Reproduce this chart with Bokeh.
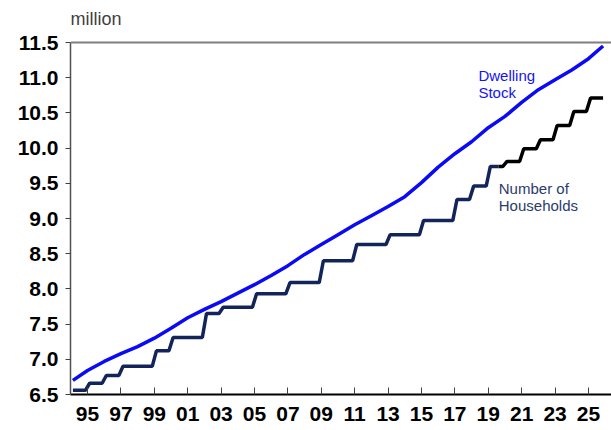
from bokeh.plotting import figure
from bokeh.models import Range1d, FixedTicker, Label, Span
from bokeh.embed import file_html
from bokeh.resources import INLINE

# Number of households (million), level held through each year
hh_years = list(range(1994, 2026))
households = [6.56, 6.66, 6.77, 6.90, 6.90, 7.12, 7.31, 7.31, 7.65, 7.74,
              7.74, 7.93, 7.93, 8.09, 8.09, 8.40, 8.40, 8.63, 8.63, 8.77,
              8.77, 8.97, 8.97, 9.27, 9.46, 9.74, 9.81, 9.99, 10.12, 10.32,
              10.52, 10.71]
projection_start = 2019.625

# Dwelling stock (million)
stock_x = [1994.125, 1995, 1996, 1997, 1998, 1999, 2000, 2001, 2002, 2003,
           2004, 2005, 2006, 2007, 2008, 2009, 2010, 2011, 2012, 2013,
           2014, 2015, 2016, 2017, 2018, 2019, 2020, 2021, 2022, 2023,
           2024, 2025, 2025.875]
stock = [6.70, 6.84, 6.97, 7.08, 7.18, 7.30, 7.44, 7.59, 7.71, 7.82,
         7.94, 8.06, 8.19, 8.33, 8.49, 8.63, 8.77, 8.91, 9.04, 9.17,
         9.31, 9.51, 9.73, 9.92, 10.09, 10.29, 10.45, 10.65, 10.83, 10.97,
         11.11, 11.27, 11.45]

x_ticks = list(range(1995, 2026, 2))
x_tick_labels = ["95", "97", "99", "01", "03", "05", "07", "09", "11", "13",
                 "15", "17", "19", "21", "23", "25"]
y_ticks = [6.5, 7.0, 7.5, 8.0, 8.5, 9.0, 9.5, 10.0, 10.5, 11.0, 11.5]
y_tick_labels = ["6.5", "7.0", "7.5", "8.0", "8.5", "9.0", "9.5", "10.0",
                 "10.5", "11.0", "11.5"]

# quarterly series: each year's level over its four quarters
q_x, q_y = [], []
for yr, v in zip(hh_years, households):
    for q in range(4):
        q_x.append(yr + (q + 0.5) / 4)
        q_y.append(v)
act_x = [x for x in q_x if x <= projection_start]
act_y = [v for x, v in zip(q_x, q_y) if x <= projection_start]
proj_x = [x for x in q_x if x >= projection_start]
proj_y = [v for x, v in zip(q_x, q_y) if x >= projection_start]

FONT = "Liberation Sans"
X0, X1 = 1993.98, 2026.38
Y0, Y1 = 6.5, 11.5
# the frame runs to the top of the canvas; the axis itself stops at Y1
Y_TOP = Y0 + 394 / 70.4

p = figure(width=611, height=430, output_backend="svg", toolbar_location=None,
           title=None, x_range=Range1d(X0, X1), y_range=Range1d(Y0, Y_TOP),
           min_border_left=70, min_border_right=0, min_border_top=0,
           min_border_bottom=36)
p.outline_line_color = None
p.xgrid.visible = False
p.ygrid.visible = False
p.background_fill_color = "white"
p.border_fill_color = "white"

p.line(stock_x, stock, line_color="#0a0af5", line_width=3.5)
p.line(act_x, act_y, line_color="#13245a", line_width=3.5)
p.line(proj_x, proj_y, line_color="#000000", line_width=3.5)

# top border of the plotting area
p.add_layout(Span(location=Y1, dimension="width", line_color="#7f7f7f",
                  line_width=2))

xa = p.xaxis[0]
xa.ticker = FixedTicker(ticks=x_ticks)
xa.major_label_overrides = dict(zip(x_ticks, x_tick_labels))
xa.axis_line_color = "#000000"
xa.axis_line_width = 2
xa.major_tick_in = 7
xa.major_tick_out = 0
xa.major_tick_line_color = "#404040"
xa.minor_tick_line_color = None
xa.major_label_standoff = 12
xa.major_label_text_font = FONT
xa.major_label_text_font_style = "bold"
xa.major_label_text_font_size = "21px"
xa.major_label_text_color = "#000000"

ya = p.yaxis[0]
ya.bounds = (Y0, Y1)
ya.ticker = FixedTicker(ticks=y_ticks)
ya.major_label_overrides = dict(zip(y_ticks, y_tick_labels))
ya.axis_line_color = "#505050"
ya.axis_line_width = 1.5
ya.major_tick_in = 0
ya.major_tick_out = 5
ya.major_tick_line_color = "#404040"
ya.minor_tick_line_color = None
ya.major_label_standoff = 7
ya.major_label_text_font = FONT
ya.major_label_text_font_style = "bold"
ya.major_label_text_font_size = "21px"
ya.major_label_text_color = "#000000"

# unit caption above the value axis
p.add_layout(Label(x=X0, y=11.83, text="million", text_font=FONT,
                   text_font_size="18px", text_color="#404040",
                   text_baseline="alphabetic", text_align="left"))

label_style = dict(text_font=FONT, text_font_size="15px",
                   text_baseline="alphabetic", text_align="left")
p.add_layout(Label(x=2018.41, y=11.03, text="Dwelling", text_color="#1414f0",
                   **label_style))
p.add_layout(Label(x=2018.41, y=10.79, text="Stock", text_color="#1414f0",
                   **label_style))
p.add_layout(Label(x=2019.63, y=9.42, text="Number of", text_color="#2a3c6c",
                   **label_style))
p.add_layout(Label(x=2019.63, y=9.185, text="Households", text_color="#2a3c6c",
                   **label_style))

open("out.html", "w").write(file_html(p, INLINE))
